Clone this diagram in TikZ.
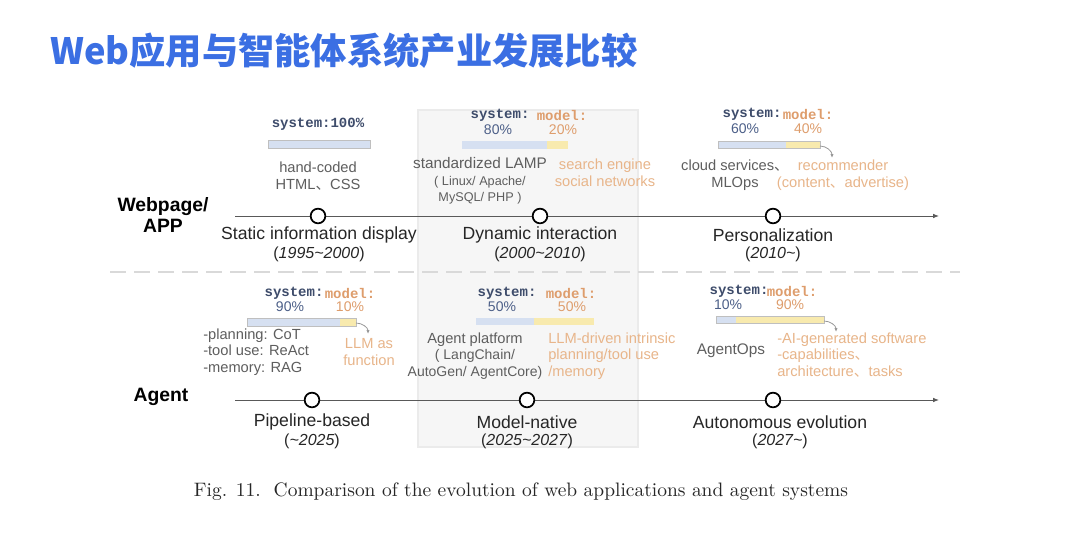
\documentclass[tikz,border=0pt]{standalone}
\usepackage{fontspec}
\usepackage{tikz}
\usetikzlibrary{arrows.meta, positioning}
\newfontfamily\sans{Liberation Sans}
\newfontfamily\mono{Liberation Mono}
\newfontfamily\cjk{Noto Sans CJK SC}
\newfontfamily\capfont{lmroman10-regular.otf}
\newcommand\enumcomma{{\cjk 、}}
\definecolor{titleblue}{HTML}{3B6FE3}
\definecolor{txtgray}{HTML}{5E5E5E}
\definecolor{txtorange}{HTML}{E8B58A}
\definecolor{sysblue}{HTML}{3E4C6B}
\definecolor{pctblue}{HTML}{4C5F88}
\definecolor{modorange}{HTML}{DE9D6C}
\definecolor{barblue}{HTML}{D6E0F1}
\definecolor{baryellow}{HTML}{F8EAAE}
\definecolor{panelgray}{HTML}{F6F6F6}

\begin{document}
\begin{tikzpicture}[x=0.75pt, y=-0.75pt,
    gtext/.style={text=txtgray, font=\sans\fontsize{11}{12.5}\selectfont, align=center, inner sep=0pt},
    otext/.style={text=txtorange, font=\sans\fontsize{11}{12.5}\selectfont, align=center, inner sep=0pt},
    syslbl/.style={text=sysblue, font=\mono\bfseries\fontsize{10.5}{12}\selectfont, inner sep=0pt},
    modlbl/.style={text=modorange, font=\mono\bfseries\fontsize{10.5}{12}\selectfont, inner sep=0pt},
    syspct/.style={text=pctblue, font=\sans\fontsize{10.5}{12}\selectfont, inner sep=0pt},
    modpct/.style={text=modorange, font=\sans\fontsize{10.5}{12}\selectfont, inner sep=0pt},
    stage/.style={text=black!85, font=\sans\fontsize{13.2}{15}\selectfont, inner sep=0pt},
    period/.style={text=black!85, font=\sans\fontsize{12}{13}\selectfont, inner sep=0pt},
    rowlbl/.style={font=\sans\bfseries\fontsize{14.5}{16}\selectfont, align=center, inner sep=0pt},
    milestone/.style={circle, draw=black, line width=1.3pt, fill=white, minimum size=11pt, inner sep=0pt},
    timeline/.style={draw=black!65, line width=0.7pt, -{Latex[length=4.5pt, width=3.5pt]}},
    barframe/.style={draw=black!25, line width=0.5pt},
    hook/.style={draw=black!40, line width=0.6pt, -{Latex[length=3pt, width=2.5pt]}}]

    %% ── Canvas ────────────────────────────────────────────────────────────
    \fill[white] (0,0) rectangle (1080,550);
    \useasboundingbox (0,0) rectangle (1080,550);

    %% Title
    \node[anchor=west, text=titleblue, inner sep=0pt,
      font=\cjk\bfseries\fontsize{27.2}{30}\selectfont] (title) at (50,51)
      {Web应用与智能体系统产业发展比较};

    %% Highlighted middle column
    \draw[fill=panelgray, draw=black!8, line width=0.8pt]
      (418,110) rectangle (638,447);

    %% Separator between the two rows
    \draw[black!15, line width=1.5pt, dash pattern=on 12pt off 6pt]
      (110,272) -- (960,272);

    %% ═══ Row 1: Webpage / APP ═════════════════════════════════════════════
    \node[rowlbl] (web) at (163,215) {Webpage/\\APP};

    \coordinate (wstart) at (235,216);
    \coordinate (wend)   at (939,216);
    \draw[timeline] (wstart) -- (wend);

    \node[milestone] (w1) at (318,216) {};
    \node[milestone] (w2) at (540,216) {};
    \node[milestone] (w3) at (773,216) {};

    \node[stage]  (w1name) at (319,235) {Static information display};
    \node[period] (w1year) at (319,254) {(\textit{1995\textasciitilde2000})};
    \node[stage]  (w2name) at (540,235) {Dynamic interaction};
    \node[period] (w2year) at (540,254) {(\textit{2000\textasciitilde2010})};
    \node[stage]  (w3name) at (773,235) {Personalization};
    \node[period] (w3year) at (773,254) {(\textit{2010\textasciitilde})};

    % stage 1: system 100%
    \node[syslbl] (w1sys) at (318,124) {system:100\%};
    \fill[barblue] (268,140) rectangle (370,148);
    \draw[barframe] (268,140) rectangle (370,148);
    \node[gtext] (w1sysdesc) at (318,176) {hand-coded\\HTML\enumcomma CSS};

    % stage 2: system 80% / model 20%
    \node[syslbl] (w2sys) at (500,115) {system:};
    \node[modlbl] (w2mod) at (562,115) {model:};
    \node[syspct] (w2syspct) at (498,130) {80\%};
    \node[modpct] (w2modpct) at (563,130) {20\%};
    \fill[barblue]   (462,141) rectangle (547,149);
    \fill[baryellow] (547,141) rectangle (568,149);
    \node[gtext] (w2sysdesc) at (480,181)
      {{\fontsize{11.5}{12.5}\selectfont standardized LAMP}\\{\fontsize{9.5}{14}\selectfont ( Linux/ Apache/}\\{\fontsize{9.5}{12}\selectfont MySQL/ PHP )}};
    \node[otext] (w2moddesc) at (605,173) {search engine\\social networks};

    % stage 3: system 60% / model 40%
    \node[syslbl] (w3sys) at (752,114) {system:};
    \node[modlbl] (w3mod) at (808,114) {model:};
    \node[syspct] (w3syspct) at (745,129) {60\%};
    \node[modpct] (w3modpct) at (808,129) {40\%};
    \fill[barblue]   (718,141) rectangle (786,148);
    \fill[baryellow] (786,141) rectangle (820,148);
    \draw[barframe]  (718,141) rectangle (820,148);
    \coordinate (w3hooks) at (820,146);
    \coordinate (w3hooke) at (832,158);
    \draw[hook] (w3hooks) to[out=0, in=90] (w3hooke);
    \node[gtext] (w3sysdesc) at (735,175) {cloud services\enumcomma\\MLOps};
    \node[otext] (w3moddesc) at (843,175) {recommender\\(content\enumcomma advertise)};

    %% ═══ Row 2: Agent ════════════════════════════════════════════════════
    \node[rowlbl] (agent) at (161,397) {Agent};

    \coordinate (astart) at (235,400);
    \coordinate (aend)   at (939,400);
    \draw[timeline] (astart) -- (aend);

    \node[milestone] (a1) at (312,400) {};
    \node[milestone] (a2) at (527,400) {};
    \node[milestone] (a3) at (773,400) {};

    \node[stage]  (a1name) at (312,422) {Pipeline-based};
    \node[period] (a1year) at (312,441) {(\textit{\textasciitilde2025})};
    \node[stage]  (a2name) at (527,422) {Model-native};
    \node[period] (a2year) at (527,441) {(\textit{2025\textasciitilde2027})};
    \node[stage]  (a3name) at (780,422) {Autonomous evolution};
    \node[period] (a3year) at (780,441) {(\textit{2027\textasciitilde})};

    % stage 1: system 90% / model 10%
    \node[syslbl] (a1sys) at (294,293) {system:};
    \node[modlbl] (a1mod) at (350,293) {model:};
    \node[syspct] (a1syspct) at (290,307) {90\%};
    \node[modpct] (a1modpct) at (350,307) {10\%};
    \fill[barblue]   (247,318) rectangle (340,326);
    \fill[baryellow] (340,318) rectangle (356,326);
    \draw[barframe]  (247,318) rectangle (356,326);
    \coordinate (a1hooks) at (356,323);
    \coordinate (a1hooke) at (368,334);
    \draw[hook] (a1hooks) to[out=0, in=90] (a1hooke);
    \node[gtext, anchor=west, align=left] (a1sysdesc) at (203,352)
      {-planning: CoT\\-tool use: ReAct\\-memory: RAG};
    \node[otext] (a1moddesc) at (369,352) {LLM as\\function};

    % stage 2: system 50% / model 50%
    \node[syslbl] (a2sys) at (507,293) {system:};
    \node[modlbl] (a2mod) at (571,293) {model:};
    \node[syspct] (a2syspct) at (502,307) {50\%};
    \node[modpct] (a2modpct) at (572,307) {50\%};
    \fill[barblue]   (476,318) rectangle (534,325);
    \fill[baryellow] (534,318) rectangle (594,325);
    \node[gtext, font=\sans\fontsize{10.5}{12.5}\selectfont] (a2sysdesc) at (475,356)
      {{\fontsize{11}{12.5}\selectfont Agent platform}\\( LangChain/\\AutoGen/ AgentCore)};
    \node[otext, anchor=west, align=left] (a2moddesc) at (548,356)
      {LLM-driven intrinsic\\planning/tool use\\/memory};

    % stage 3: system 10% / model 90%
    \node[syslbl] (a3sys) at (739,291) {system:};
    \node[modlbl] (a3mod) at (792,291) {model:};
    \node[syspct] (a3syspct) at (728,305) {10\%};
    \node[modpct] (a3modpct) at (790,305) {90\%};
    \fill[barblue]   (716,316) rectangle (736,323);
    \fill[baryellow] (736,316) rectangle (824,323);
    \draw[barframe]  (716,316) rectangle (824,323);
    \coordinate (a3hooks) at (824,321);
    \coordinate (a3hooke) at (836,332);
    \draw[hook] (a3hooks) to[out=0, in=90] (a3hooke);
    \node[gtext, font=\sans\fontsize{11.5}{12.5}\selectfont] (a3sysdesc) at (731,351) {AgentOps};
    \node[otext, anchor=west, align=left] (a3moddesc) at (777,355)
      {-AI-generated software\\-capabilities\enumcomma\\architecture\enumcomma tasks};

    %% Caption
    \node[font=\capfont\fontsize{14.6}{17}\selectfont, text=black!85, inner sep=0pt] (caption) at (521,492)
      {Fig. 11.\ \ Comparison of the evolution of web applications and agent systems};

\end{tikzpicture}
\end{document}
